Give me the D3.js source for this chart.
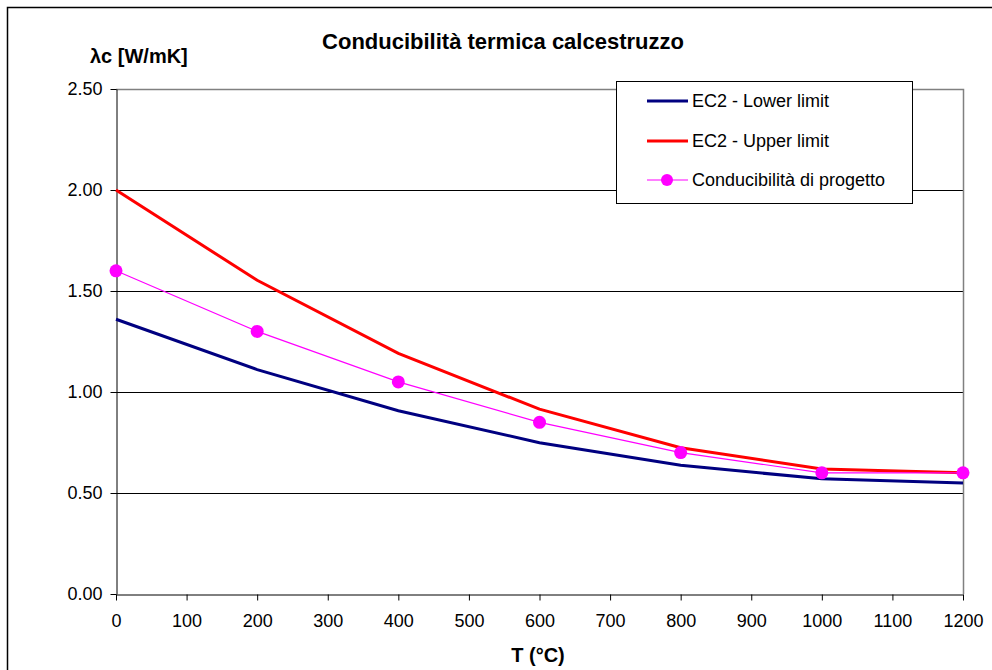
<!DOCTYPE html>
<html><head><meta charset="utf-8">
<script src="https://cdn.jsdelivr.net/npm/d3@7"></script>
<style>body{margin:0;background:#fff;}svg{display:block;font-family:"Liberation Sans",Arial,sans-serif;}</style>
</head><body>
<svg id="c" width="992" height="670"></svg>
<script>
const temps = [0, 200, 400, 600, 800, 1000, 1200];
const lowerLimit = [1.36, 1.111, 0.907, 0.749, 0.637, 0.570, 0.549];
const upperLimit = [2.00, 1.553, 1.191, 0.915, 0.724, 0.619, 0.600];
const progetto = [1.60, 1.30, 1.05, 0.85, 0.70, 0.60, 0.60];
const xTicks = [0,100,200,300,400,500,600,700,800,900,1000,1100,1200];
const yTicks = [0, 0.5, 1.0, 1.5, 2.0, 2.5];
const seriesNames = ["EC2 - Lower limit", "EC2 - Upper limit", "Conducibilità di progetto"];
const colors = ["#000080", "#FF0000", "#FF00FF"];

const svg = d3.select("#c");
const L = 116, R = 963, T = 89, B = 594;
const x = d3.scaleLinear().domain([0,1200]).range([L,R]);
const y = d3.scaleLinear().domain([0,2.5]).range([B,T]);

// outer frame (cropped at right/bottom)
svg.append("rect").attr("x",7.5).attr("y",7.5).attr("width",1000).attr("height",700)
  .attr("fill","none").attr("stroke","#000").attr("stroke-width",1.5);

// gridlines
svg.append("g").selectAll("line").data(yTicks.filter(d=>d>0 && d<2.5)).join("line")
  .attr("x1",L).attr("x2",R).attr("y1",d=>Math.round(y(d))+0.5).attr("y2",d=>Math.round(y(d))+0.5)
  .attr("stroke","#000").attr("stroke-width",1);
// plot area border top/right
svg.append("path").attr("d",`M${L},${T+0.5}H${R+0.5}V${B}`).attr("fill","none").attr("stroke","#808080").attr("stroke-width",1.5);

// axes
const yAxis = d3.axisLeft(y).tickValues(yTicks).tickFormat(d3.format(".2f")).tickSize(6).tickSizeOuter(0).tickPadding(8);
const gy = svg.append("g").attr("transform",`translate(${L+0.5},0)`).call(yAxis);
const xAxis = d3.axisBottom(x).tickValues(xTicks).tickFormat(d3.format("d")).tickSize(6).tickSizeOuter(0).tickPadding(14);
const gx = svg.append("g").attr("transform",`translate(0,${B+0.5})`).call(xAxis);
[gx,gy].forEach(g=>{
  g.selectAll("text").attr("font-size",18).attr("fill","#000").attr("font-family","Liberation Sans, Arial, sans-serif");
  g.selectAll("line").attr("stroke","#000");
  g.select(".domain").attr("stroke","#000");
});

// lines
const line = d3.line().x((d,i)=>x(temps[i])).y(d=>y(d));
svg.append("path").datum(lowerLimit).attr("d",line).attr("fill","none").attr("stroke",colors[0]).attr("stroke-width",3);
svg.append("path").datum(upperLimit).attr("d",line).attr("fill","none").attr("stroke",colors[1]).attr("stroke-width",3);
svg.append("path").datum(progetto).attr("d",line).attr("fill","none").attr("stroke",colors[2]).attr("stroke-width",1.2);
svg.append("g").selectAll("circle").data(progetto).join("circle")
  .attr("cx",(d,i)=>x(temps[i])).attr("cy",d=>y(d)).attr("r",6.5).attr("fill",colors[2]);

// legend
const lg = svg.append("g");
lg.append("rect").attr("x",616.5).attr("y",81.5).attr("width",296).attr("height",122).attr("fill","#fff").attr("stroke","#000").attr("stroke-width",1);
const rowsY = [101, 141, 180];
seriesNames.forEach((n,i)=>{
  lg.append("line").attr("x1",647).attr("x2",688).attr("y1",rowsY[i]).attr("y2",rowsY[i])
    .attr("stroke",colors[i]).attr("stroke-width",i===2?1.2:3);
  if(i===2) lg.append("circle").attr("cx",667).attr("cy",rowsY[i]).attr("r",6).attr("fill",colors[i]);
  lg.append("text").attr("x",692).attr("y",rowsY[i]+6).attr("font-size",18).attr("fill","#000").text(n);
});

// titles
svg.append("text").attr("x",503).attr("y",49).attr("text-anchor","middle").attr("font-size",22).attr("font-weight","bold").text("Conducibilità termica calcestruzzo");
svg.append("text").attr("x",90).attr("y",63).attr("font-size",20).attr("font-weight","bold").text("λc [W/mK]");
svg.append("text").attr("x",538).attr("y",662).attr("text-anchor","middle").attr("font-size",20).attr("font-weight","bold").text("T (°C)");
</script>
</body></html>
